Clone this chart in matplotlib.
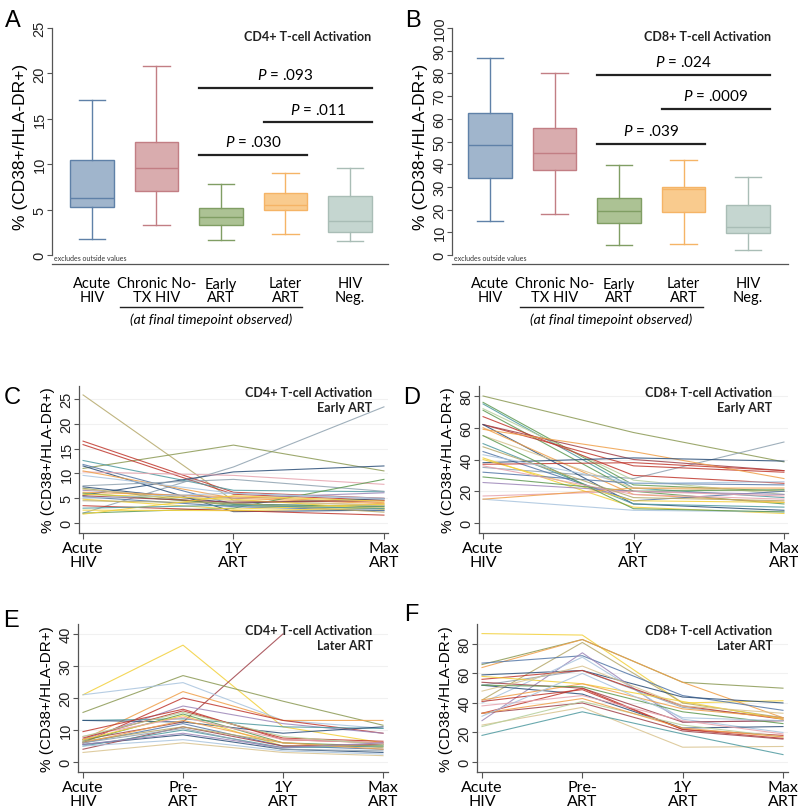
import numpy as np
import matplotlib.pyplot as plt
from matplotlib.transforms import blended_transform_factory

plt.rcParams['font.family'] = ['Lato', 'DejaVu Sans']
plt.rcParams['mathtext.fontset'] = 'custom'
plt.rcParams['mathtext.it'] = 'Lato:italic'
plt.rcParams['mathtext.rm'] = 'Lato'

# ---------------- data ----------------
groups = ['Acute\nHIV', 'Chronic No-\nTX HIV', 'Early\nART', 'Later\nART', 'HIV\nNeg.']
# whisker low, q1, median, q3, whisker high
cd4_box = [[1.8, 5.3, 6.3, 10.5, 17.1],
           [3.3, 7.0, 9.6, 12.5, 20.8],
           [1.6, 3.3, 4.2, 5.2, 7.8],
           [2.3, 5.0, 5.5, 6.8, 9.0],
           [1.5, 2.5, 3.7, 6.5, 9.6]]
cd8_box = [[15, 34, 48.5, 62.5, 87],
           [18, 37.5, 45, 56, 80],
           [4.5, 14, 19.5, 25, 39.5],
           [5, 19, 29, 30, 42],
           [2, 9.5, 12.5, 22, 34.5]]
box_face = ['#a0b5cc', '#d9acae', '#acc294', '#f9cb8e', '#c5d6d0']
box_edge = ['#5f81a8', '#c27e84', '#809e64', '#f5b466', '#a9bdb6']

# (from group, to group, height, label)
cd4_p = [(3, 5, 18.4, '.093'), (4, 5, 14.6, '.011'), (3, 4, 11.0, '.030')]
cd8_p = [(3, 5, 79.5, '.024'), (4, 5, 64.5, '.0009'), (3, 4, 49.0, '.039')]

early_times = ['Acute\nHIV', '1Y\nART', 'Max\nART']
later_times = ['Acute\nHIV', 'Pre-\nART', '1Y\nART', 'Max\nART']

pal = dict(blue='#5578a8', navy='#2c4f78', red='#c0392f', maroon='#a0424a',
           olive='#8c9a55', khaki='#b5a86a', green='#5f9a52', orange='#f0a04a',
           yellow='#f2d03a', teal='#4f9aa0', pink='#e6a3ae', purple='#9c86b8',
           ltblue='#a9c4de', gray='#8fa2b0', tan='#d9c38f', ltgreen='#b6cf9b')

cd4_early = [[25.8, 4.5, 3.6], [2.0, 11.3, 23.4], [11.0, 15.7, 10.5], [16.5, 6.2, 5.0],
             [15.8, 5.8, 4.6], [12.6, 6.6, 6.3], [11.8, 3.8, 3.4], [11.5, 2.3, 2.6],
             [5.6, 10.3, 11.5], [7.5, 8.8, 6.4], [10.3, 9.6, 7.8], [10.5, 5.0, 3.9],
             [2.0, 3.0, 8.8], [6.6, 5.0, 6.1], [7.3, 4.0, 4.9], [7.0, 3.5, 3.0],
             [6.8, 4.5, 3.6], [6.2, 5.3, 4.1], [6.0, 3.8, 3.3], [5.8, 4.8, 2.8],
             [5.5, 4.2, 4.5], [5.3, 3.3, 2.5], [5.0, 6.0, 4.8], [4.8, 2.8, 3.8],
             [4.5, 4.0, 2.2], [3.5, 2.5, 1.6], [2.6, 2.5, 3.0], [1.8, 5.5, 4.4],
             [3.0, 3.6, 2.9], [9.6, 6.0, 5.0]]
cd4_early_col = ['khaki', 'gray', 'olive', 'red', 'red', 'teal', 'blue', 'navy',
                 'navy', 'gray', 'pink', 'orange', 'green', 'purple', 'navy', 'olive',
                 'tan', 'orange', 'green', 'yellow', 'maroon', 'blue', 'ltblue', 'yellow',
                 'khaki', 'red', 'yellow', 'yellow', 'teal', 'ltblue']

cd8_early = [[80, 57, 38.5], [35, 28, 51], [76, 24, 20], [75, 22, 16], [72, 27, 18],
             [71, 20, 12], [67, 30, 25], [62, 36, 32], [62, 40, 33], [62, 12, 8],
             [60, 18, 13], [59, 45, 28], [55, 22, 20], [50, 12, 10], [45, 14, 20],
             [38, 41, 39], [41, 10, 6], [40, 14, 13], [32, 25, 24], [37, 38, 33],
             [29, 20, 21], [25.5, 20, 18], [17, 20, 17], [15, 8, 7], [15, 22, 22],
             [55, 9, 7], [36, 18, 15], [48, 16, 14], [43, 25, 26]]
cd8_early_col = ['olive', 'gray', 'green', 'teal', 'ltgreen', 'green', 'red', 'red',
                 'maroon', 'navy', 'orange', 'orange', 'tan', 'teal', 'blue', 'navy',
                 'yellow', 'yellow', 'blue', 'red', 'green', 'purple', 'pink', 'ltblue',
                 'orange', 'green', 'pink', 'khaki', 'ltblue']

cd4_later = [[21, 36.5, 11, 6], [7, 12.5, 40, np.nan], [15.5, 27, 19, 11.5],
             [21, 24.8, 13, 10.5], [7, 22, 13, 13], [6, 20, 13, 9], [7, 17.5, 12, 9],
             [13, 13.5, 11, 10.5], [13, 12.5, 9, 11], [9.5, 16.5, 7, 6], [6.5, 15, 6, 5],
             [7, 14.5, 5, 5], [6, 12, 5, 4], [5.5, 8.5, 4, 3], [3, 6, 3, 2],
             [4, 11, 5, 5.5], [8, 14, 7, 6], [6.5, 11, 6, 4.5], [5, 10, 4.5, 5],
             [6, 13, 6, 4], [7.5, 16, 7.5, 6.5], [5, 7, 3.5, 2.5], [6, 10.5, 4, 3.5],
             [8, 15.5, 8, 5.5], [5.5, 9, 4.5, 6]]
cd4_later_col = ['yellow', 'maroon', 'olive', 'ltblue', 'orange', 'red', 'purple',
                 'teal', 'navy', 'red', 'green', 'yellow', 'blue', 'navy', 'tan',
                 'maroon', 'pink', 'khaki', 'teal', 'orange', 'red', 'ltblue', 'gray',
                 'ltgreen', 'purple']

cd8_later = [[87, 86, 40, 41.5], [66, 83, 54, 50], [64, 83, 54, 30], [42, 81, 40, 30],
             [67, 72, 45, 35], [59, 62, 44, 40], [28, 74, 27, 28], [40, 71, 29, 20],
             [52, 62, 37, 30], [56, 62, 38, 29], [54, 50, 27, 28], [52, 46, 23, 24],
             [58, 53, 41, 29], [42, 53, 36, 30], [52, 51, 34, 26], [41, 49, 22, 18],
             [33, 50, 22, 16], [33, 40, 21, 15.5], [25, 37, 10, 10.5], [18, 34, 19, 5],
             [24, 41, 25, 17], [38, 45, 28, 19], [33, 43, 23, 17], [31, 60, 30, 28],
             [48, 65, 38, 33]]
cd8_later_col = ['yellow', 'olive', 'orange', 'khaki', 'blue', 'navy', 'purple', 'ltblue',
                 'gray', 'red', 'maroon', 'navy', 'yellow', 'orange', 'green', 'red',
                 'red', 'maroon', 'tan', 'teal', 'ltgreen', 'pink', 'orange', 'ltblue',
                 'tan']

# ---------------- figure ----------------
W, H = 798, 812
fig = plt.figure(figsize=(W / 100, H / 100), dpi=100)


def px_axes(left, top, right, bottom):
    return fig.add_axes([left / W, 1 - bottom / H, (right - left) / W, (bottom - top) / H])


ylab = '% (CD38+/HLA-DR+)'
tick_font = ['Liberation Sans', 'DejaVu Sans']
axcol = '#555555'


def style_axes(ax):
    for s in ['top', 'right']:
        ax.spines[s].set_visible(False)
    for s in ['left', 'bottom']:
        ax.spines[s].set_color(axcol)
        ax.spines[s].set_linewidth(0.9)
    ax.tick_params(axis='y', direction='out', length=3.5, color=axcol, labelrotation=90,
                   labelsize=10.5, labelcolor='#222222', pad=0.5)
    for t in ax.get_yticklabels():
        t.set_family(tick_font)
        t.set_va('center')
    for t in ax.get_xticklabels():
        t.set_linespacing(0.95)


def box_panel(ax, stats, pvals, ymax, step, title, letter, lab_x0, lab_x1):
    pos = np.arange(1, 6)
    width = 0.68
    bstats = [dict(whislo=s[0], q1=s[1], med=s[2], q3=s[3], whishi=s[4], fliers=[])
              for s in stats]
    bp = ax.bxp(bstats, positions=pos, widths=width, patch_artist=True,
                showfliers=False, capwidths=width * 0.6)
    for i in range(5):
        bp['boxes'][i].set_facecolor(box_face[i])
        bp['boxes'][i].set_edgecolor(box_edge[i])
        bp['boxes'][i].set_linewidth(1.0)
        bp['medians'][i].set_color(box_edge[i])
        bp['medians'][i].set_linewidth(1.0)
        for k in (2 * i, 2 * i + 1):
            bp['whiskers'][k].set_color(box_edge[i])
            bp['caps'][k].set_color(box_edge[i])
            bp['whiskers'][k].set_linewidth(1.0)
            bp['caps'][k].set_linewidth(1.0)
    for a, b, y, txt in pvals:
        ax.plot([a - width / 2, b + width / 2], [y, y], color='#222222', lw=1.6)
        ax.text((a - width / 2 + b + width / 2) / 2, y + ymax * 0.025,
                r'$\it{P}$ = ' + txt, ha='center', va='bottom', fontsize=11)
    ax.set_ylim(-ymax * 0.0396, ymax)
    ax.set_yticks(np.arange(0, ymax + 0.1, step))
    ax.spines['left'].set_bounds(0, ymax)
    ax.set_xticks(pos)
    ax.set_xticklabels(groups, fontsize=10.5)
    ax.tick_params(axis='x', length=0, pad=9)
    style_axes(ax)
    ax.set_ylabel(ylab, fontsize=12.5, family=tick_font, labelpad=3)
    ax.text(0.005, 0.012, 'excludes outside values', transform=ax.transAxes,
            fontsize=5, color='#333333', va='bottom')
    ax.text(0.95, 0.99, title, transform=ax.transAxes, ha='right', va='top',
            fontsize=9, fontweight='bold', color='#222222')
    tr = blended_transform_factory(ax.transData, ax.transAxes)
    ax.plot([lab_x0, lab_x1], [-0.182, -0.182], transform=tr, color='#222222',
            lw=1.0, clip_on=False)
    ax.text((lab_x0 + lab_x1) / 2, -0.205, '(at final timepoint observed)', transform=tr,
            ha='center', va='top', fontsize=10, style='italic')
    ax.text(-0.14, 1.08, letter, transform=ax.transAxes, fontsize=17,
            family=tick_font, va='top')


axA = px_axes(52, 29, 388, 265)
axA.set_xlim(0.38, 5.59)
box_panel(axA, cd4_box, cd4_p, 25, 5, 'CD4+ T-cell Activation', 'A', 1.43, 4.26)

axB = px_axes(452, 29, 788, 265)
axB.set_xlim(0.41, 5.62)
box_panel(axB, cd8_box, cd8_p, 100, 10, 'CD8+ T-cell Activation', 'B', 1.47, 4.30)


def line_panel(ax, data, cols, times, ylim, ticks, title, letter, lx, ly):
    x = np.arange(len(times))
    for vals, c in zip(data, cols):
        ax.plot(x, vals, color=pal[c], lw=0.8, alpha=0.85)
    ax.set_xticks(x)
    ax.set_xticklabels(times, fontsize=11.5)
    ax.tick_params(axis='x', direction='out', length=4, color=axcol, pad=2)
    ax.set_ylim(*ylim)
    ax.set_yticks(ticks)
    ax.yaxis.grid(True, color='#f1f1f1', lw=0.8)
    ax.set_axisbelow(True)
    style_axes(ax)
    ax.set_ylabel(ylab, fontsize=11, family=tick_font, labelpad=3)
    ax.text(0.95, 1.0, title, transform=ax.transAxes, ha='right', va='top',
            fontsize=9, fontweight='bold', color='#222222', linespacing=1.35)
    ax.text(lx, ly, letter, transform=ax.transAxes, fontsize=17,
            family=tick_font, va='top')


axC = px_axes(79, 387, 388, 534)
axC.set_xlim(-0.027, 2.027)
line_panel(axC, cd4_early, cd4_early_col, early_times, (-2.0, 27.6), [0, 5, 10, 15, 20, 25],
           'CD4+ T-cell Activation\nEarly ART', 'C', -0.245, 1.0)

axD = px_axes(479, 387, 788, 534)
axD.set_xlim(-0.027, 2.027)
line_panel(axD, cd8_early, cd8_early_col, early_times, (-6.3, 86.3), [0, 20, 40, 60, 80],
           'CD8+ T-cell Activation\nEarly ART', 'D', -0.245, 1.0)

axE = px_axes(78, 625, 388, 773)
axE.set_xlim(-0.05, 3.05)
line_panel(axE, cd4_later, cd4_later_col, later_times, (-3.1, 43.1), [0, 10, 20, 30, 40],
           'CD4+ T-cell Activation\nLater ART', 'E', -0.24, 1.1)

axF = px_axes(477, 625, 788, 773)
axF.set_xlim(-0.05, 3.05)
line_panel(axF, cd8_later, cd8_later_col, later_times, (-6.8, 93.5), [0, 20, 40, 60, 80],
           'CD8+ T-cell Activation\nLater ART', 'F', -0.235, 1.14)

fig.savefig('out.png', dpi=100, facecolor='white')
